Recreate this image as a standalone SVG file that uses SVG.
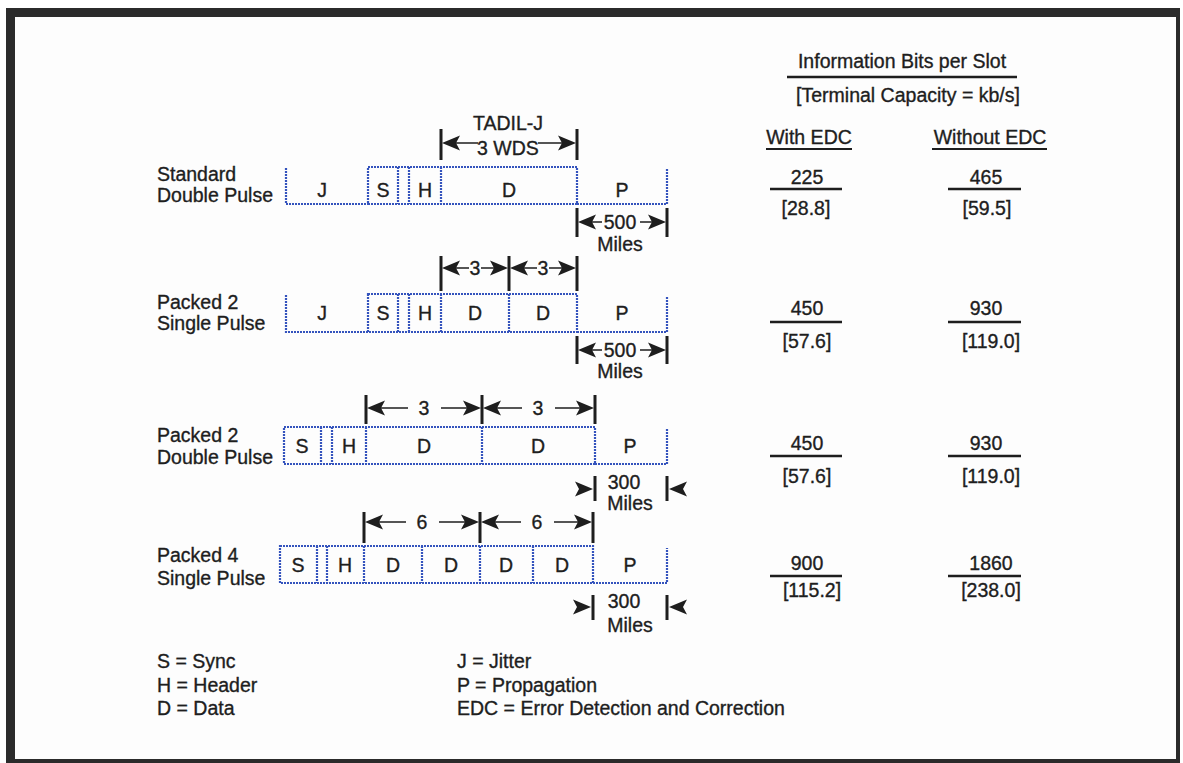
<svg xmlns="http://www.w3.org/2000/svg" xmlns:xlink="http://www.w3.org/1999/xlink" width="1183" height="763" viewBox="0 0 1183 763">
<defs>
<style>
text{font-family:"Liberation Sans",Arial,sans-serif;font-size:19.5px;fill:#1e1e1e;stroke:#1e1e1e;stroke-width:0.35}
.c{text-anchor:middle}
.box{fill:none;stroke:#3453bd;stroke-width:2.2;stroke-dasharray:2 1}
.bar{stroke:#1e1e1e;stroke-width:3;fill:none}
.sh{stroke:#1e1e1e;stroke-width:1.6;fill:none}
.rule{stroke:#1e1e1e;stroke-width:2.5;fill:none}
</style>
<path id="aL" d="M0,0 L18,-7.5 L14,0 L18,7.5 Z" fill="#1e1e1e"/>
<path id="aR" d="M0,0 L-18,-7.5 L-14,0 L-18,7.5 Z" fill="#1e1e1e"/>
</defs>
<rect width="1183" height="763" fill="#ffffff"/>
<rect x="6" y="8" width="1174" height="755" fill="#2b2b2b"/>
<rect x="15" y="17" width="1161" height="742" fill="#fdfdfd"/>

<g id="header">
<text class="c" x="902" y="68">Information Bits per Slot</text>
<line class="rule" x1="787" y1="77" x2="1017" y2="77"/>
<text class="c" x="908" y="102">[Terminal Capacity = kb/s]</text>
<text class="c" x="809" y="144">With EDC</text>
<line x1="766" y1="149" x2="852" y2="149" stroke="#1e1e1e" stroke-width="1.8"/>
<text class="c" x="990" y="144">Without EDC</text>
<line x1="932" y1="149" x2="1047" y2="149" stroke="#1e1e1e" stroke-width="1.8"/>
</g>

<g id="row1">
<text x="157" y="181">Standard</text>
<text x="157" y="202">Double Pulse</text>
<path class="box" d="M286,168 V204 H368 M577,204 H667 V169"/>
<rect class="box" x="368" y="167" width="209" height="37"/>
<path class="box" d="M398,167 V204 M409,167 V204 M441,167 V204"/>
<text class="c" x="322" y="197">J</text>
<text class="c" x="383" y="197">S</text>
<text class="c" x="425" y="197">H</text>
<text class="c" x="509" y="197">D</text>
<text class="c" x="622" y="197">P</text>
<text class="c" x="508" y="130">TADIL-J</text>
<text class="c" x="508" y="155">3 WDS</text>
<text class="c" x="620" y="229">500</text>
<text class="c" x="620" y="251">Miles</text>
</g>

<g id="row2">
<text x="157" y="309">Packed 2</text>
<text x="157" y="330">Single Pulse</text>
<path class="box" d="M286,295 V332 H368 M577,332 H667 V296"/>
<rect class="box" x="368" y="294" width="209" height="38"/>
<path class="box" d="M398,294 V332 M409,294 V332 M441,294 V332 M509,294 V332"/>
<text class="c" x="322" y="320">J</text>
<text class="c" x="383" y="320">S</text>
<text class="c" x="425" y="320">H</text>
<text class="c" x="475" y="320">D</text>
<text class="c" x="543" y="320">D</text>
<text class="c" x="622" y="320">P</text>
<text class="c" x="475" y="275">3</text>
<text class="c" x="543" y="275">3</text>
<text class="c" x="620" y="357">500</text>
<text class="c" x="620" y="378">Miles</text>
</g>

<g id="row3">
<text x="157" y="442">Packed 2</text>
<text x="157" y="464">Double Pulse</text>
<rect class="box" x="284" y="427" width="311" height="37"/>
<path class="box" d="M321,427 V464 M332,427 V464 M366,427 V464 M482,427 V464 M595,464 H667 V428"/>
<text class="c" x="302" y="453">S</text>
<text class="c" x="349" y="453">H</text>
<text class="c" x="424" y="453">D</text>
<text class="c" x="538" y="453">D</text>
<text class="c" x="630" y="453">P</text>
<text class="c" x="424" y="415">3</text>
<text class="c" x="538" y="415">3</text>
<text class="c" x="624" y="489">300</text>
<text class="c" x="630" y="510">Miles</text>
</g>

<g id="row4">
<text x="157" y="562">Packed 4</text>
<text x="157" y="585">Single Pulse</text>
<rect class="box" x="280" y="546" width="313" height="37"/>
<path class="box" d="M317,546 V583 M327,546 V583 M364,546 V583 M422,546 V583 M480,546 V583 M533,546 V583 M593,583 H667 V548"/>
<text class="c" x="298" y="572">S</text>
<text class="c" x="345" y="572">H</text>
<text class="c" x="393" y="572">D</text>
<text class="c" x="451" y="572">D</text>
<text class="c" x="506" y="572">D</text>
<text class="c" x="562" y="572">D</text>
<text class="c" x="630" y="572">P</text>
<text class="c" x="422" y="529">6</text>
<text class="c" x="537" y="529">6</text>
<text class="c" x="624" y="608">300</text>
<text class="c" x="630" y="632">Miles</text>
</g>

<g id="capacity-with">
<text class="c" x="807" y="184">225</text>
<line class="rule" x1="770" y1="189" x2="842" y2="189"/>
<text class="c" x="806" y="215">[28.8]</text>
<text class="c" x="807" y="315">450</text>
<line class="rule" x1="770" y1="322" x2="842" y2="322"/>
<text class="c" x="807" y="348">[57.6]</text>
<text class="c" x="807" y="450">450</text>
<line class="rule" x1="770" y1="456" x2="842" y2="456"/>
<text class="c" x="807" y="483">[57.6]</text>
<text class="c" x="807" y="570">900</text>
<line class="rule" x1="770" y1="576" x2="842" y2="576"/>
<text class="c" x="812" y="597">[115.2]</text>
</g>

<g id="capacity-without">
<text class="c" x="986" y="184">465</text>
<line class="rule" x1="948" y1="189" x2="1021" y2="189"/>
<text class="c" x="987" y="215">[59.5]</text>
<text class="c" x="986" y="315">930</text>
<line class="rule" x1="948" y1="322" x2="1021" y2="322"/>
<text class="c" x="991" y="348">[119.0]</text>
<text class="c" x="986" y="450">930</text>
<line class="rule" x1="948" y1="456" x2="1021" y2="456"/>
<text class="c" x="991" y="483">[119.0]</text>
<text class="c" x="991" y="570">1860</text>
<line class="rule" x1="948" y1="576" x2="1021" y2="576"/>
<text class="c" x="991" y="597">[238.0]</text>
</g>

<g id="legend">
<text x="157" y="668">S = Sync</text>
<text x="157" y="692">H = Header</text>
<text x="157" y="715">D = Data</text>
<text x="457" y="668">J = Jitter</text>
<text x="457" y="692">P = Propagation</text>
<text x="457" y="715">EDC = Error Detection and Correction</text>
</g>

<g id="connectors">
<path class="bar" d="M441,129 V160 M577,129 V160"/>
<use xlink:href="#aL" x="442" y="143"/>
<path class="sh" d="M455,143 H478 M538,143 H563"/>
<use xlink:href="#aR" x="576" y="143"/>
<path class="bar" d="M577,208 V237 M667,208 V237"/>
<use xlink:href="#aL" x="578" y="222"/>
<path class="sh" d="M591,222 H602 M640,222 H653"/>
<use xlink:href="#aR" x="666" y="222"/>
<path class="bar" d="M441,256 V291 M509,256 V291 M577,256 V291"/>
<use xlink:href="#aL" x="442" y="268"/>
<path class="sh" d="M455,268 H469 M481,268 H495"/>
<use xlink:href="#aR" x="508" y="268"/>
<use xlink:href="#aL" x="510" y="268"/>
<path class="sh" d="M523,268 H537 M549,268 H563"/>
<use xlink:href="#aR" x="576" y="268"/>
<path class="bar" d="M577,336 V364 M667,336 V364"/>
<use xlink:href="#aL" x="578" y="350"/>
<path class="sh" d="M591,350 H602 M640,350 H653"/>
<use xlink:href="#aR" x="666" y="350"/>
<path class="bar" d="M366,395 V424 M482,395 V424 M595,395 V424"/>
<use xlink:href="#aL" x="367" y="408"/>
<path class="sh" d="M380,408 H408 M441,408 H468"/>
<use xlink:href="#aR" x="481" y="408"/>
<use xlink:href="#aL" x="483" y="408"/>
<path class="sh" d="M496,408 H522 M555,408 H581"/>
<use xlink:href="#aR" x="594" y="408"/>
<path class="bar" d="M595,476 V501 M667,476 V501"/>
<use xlink:href="#aR" x="593" y="489"/>
<use xlink:href="#aL" x="669" y="489"/>
<path class="bar" d="M364,512 V543 M480,512 V543 M593,512 V543"/>
<use xlink:href="#aL" x="365" y="522"/>
<path class="sh" d="M378,522 H406 M439,522 H466"/>
<use xlink:href="#aR" x="479" y="522"/>
<use xlink:href="#aL" x="481" y="522"/>
<path class="sh" d="M494,522 H521 M554,522 H579"/>
<use xlink:href="#aR" x="592" y="522"/>
<path class="bar" d="M593,595 V620 M667,595 V620"/>
<use xlink:href="#aR" x="591" y="607"/>
<use xlink:href="#aL" x="669" y="607"/>
</g>
</svg>
